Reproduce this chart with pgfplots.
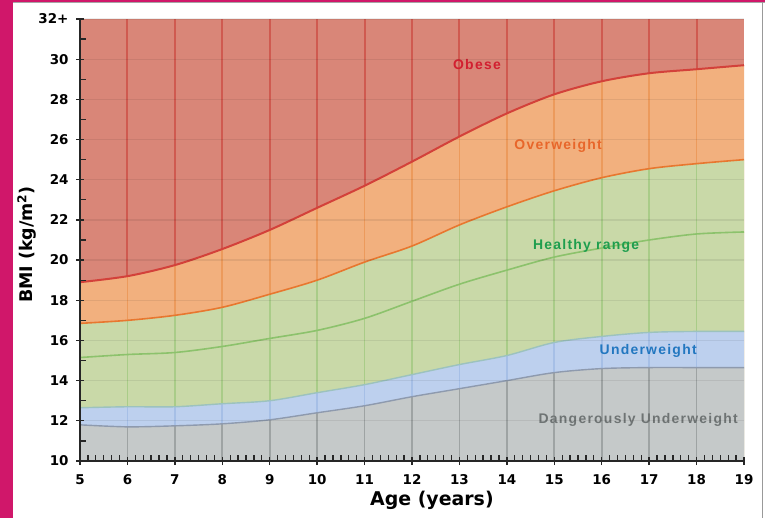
\documentclass[border=0pt]{standalone}
\usepackage{fontspec}
\setmainfont{Liberation Sans}
\newfontfamily\lblfont[LetterSpace=9]{Liberation Sans}
\newfontfamily\axfont{DejaVu Sans}
\usepackage{pgfplots}
\usepackage{pgfplotstable}
\pgfplotsset{compat=1.18}
\definecolor{magentaC}{HTML}{D0176A}
\definecolor{obF}{HTML}{D98678}
\definecolor{obG}{HTML}{CF5A50}
\definecolor{obL}{HTML}{D3413A}
\definecolor{ovF}{HTML}{F2B07E}
\definecolor{ovG}{HTML}{EC9A5C}
\definecolor{ovL}{HTML}{E8772F}
\definecolor{hrF}{HTML}{C9D9A8}
\definecolor{hrG}{HTML}{A9CC88}
\definecolor{hrL}{HTML}{8CC26C}
\definecolor{uwF}{HTML}{BDD0EE}
\definecolor{uwG}{HTML}{A6BFE6}
\definecolor{uwL}{HTML}{9CC2BE}
\definecolor{dgF}{HTML}{C5C9C9}
\definecolor{dgG}{HTML}{9EA3A3}
\definecolor{dgL}{HTML}{8E9AAE}
\definecolor{tObese}{HTML}{D21F30}
\definecolor{tOver}{HTML}{E8662A}
\definecolor{tHealth}{HTML}{1E9E4E}
\definecolor{tUnder}{HTML}{2277C0}
\definecolor{tDang}{HTML}{6F7474}

\pgfplotstableread{
age top obese over median under dang
5  32 18.9  16.85 15.15 12.65 11.8
6  32 19.2  17.0  15.3  12.7  11.7
7  32 19.75 17.25 15.4  12.7  11.75
8  32 20.55 17.65 15.7  12.85 11.85
9  32 21.5  18.3  16.1  13.0  12.05
10 32 22.6  19.0  16.5  13.4  12.4
11 32 23.7  19.9  17.1  13.8  12.75
12 32 24.9  20.7  17.95 14.3  13.2
13 32 26.15 21.75 18.8  14.8  13.6
14 32 27.3  22.65 19.5  15.25 14.0
15 32 28.25 23.45 20.15 15.9  14.4
16 32 28.9  24.1  20.6  16.2  14.6
17 32 29.3  24.55 21.0  16.4  14.65
18 32 29.5  24.8  21.3  16.45 14.65
19 32 29.7  25.0  21.4  16.45 14.65
}\bmi
\pgfplotstableread{
age top obese over median under dang
6  32 19.2  17.0  15.3  12.7  11.7
7  32 19.75 17.25 15.4  12.7  11.75
8  32 20.55 17.65 15.7  12.85 11.85
9  32 21.5  18.3  16.1  13.0  12.05
10 32 22.6  19.0  16.5  13.4  12.4
11 32 23.7  19.9  17.1  13.8  12.75
12 32 24.9  20.7  17.95 14.3  13.2
13 32 26.15 21.75 18.8  14.8  13.6
14 32 27.3  22.65 19.5  15.25 14.0
15 32 28.25 23.45 20.15 15.9  14.4
16 32 28.9  24.1  20.6  16.2  14.6
17 32 29.3  24.55 21.0  16.4  14.65
18 32 29.5  24.8  21.3  16.45 14.65
}\grid

\begin{document}
\begin{tikzpicture}
\begin{axis}[
  scale only axis,
  width=664bp, height=442bp,
  xmin=5, xmax=19, ymin=10, ymax=32,
  xtick={5,...,19},
  ytick={10,12,...,32},
  yticklabels={10,12,14,16,18,20,22,24,26,28,30,32+},
  minor x tick num=5,
  minor y tick num=1,
  axis lines*=left,
  axis line style={-, line width=1.4bp, black!85},
  tick align=center,
  major tick length=8bp,
  minor tick length=6bp,
  tick style={line width=1.3bp, black!85},
  minor x tick style={yshift=3bp},
  minor y tick style={xshift=3bp},
  ymajorgrids,
  y grid style={black, opacity=0.07, line width=1.2bp},
  axis on top,
  axis background/.style={fill=obF},
  /pgf/number format/assume math mode=true,
  ticklabel style={font=\axfont\fontsize{13.5}{13.5}\selectfont\bfseries},
  xticklabel style={yshift=-6bp},
  yticklabel style={xshift=-4bp},
  xlabel={Age (years)},
  ylabel={BMI (kg/m\textsuperscript{2})},
  xlabel style={font=\axfont\fontsize{19}{19}\selectfont\bfseries, at={(axis description cs:0.53,-0.09)}, anchor=center},
  ylabel style={font=\axfont\fontsize{17.5}{17.5}\selectfont\bfseries, at={(axis description cs:-0.08,0.49)}, anchor=center, rotate=0},
  clip=true,
]
% obese band grid
\addplot[ycomb, no marks, draw=obG, line width=2bp] table[x=age,y=top] {\grid};
% overweight
\addplot[fill=ovF, draw=none, smooth] table[x=age,y=obese] {\bmi} \closedcycle;
\addplot[ycomb, no marks, draw=ovG, line width=1.6bp] table[x=age,y=obese] {\grid};
% healthy
\addplot[fill=hrF, draw=none, smooth] table[x=age,y=over] {\bmi} \closedcycle;
\addplot[ycomb, no marks, draw=hrG, line width=1.6bp] table[x=age,y=over] {\grid};
% underweight
\addplot[fill=uwF, draw=none, smooth] table[x=age,y=under] {\bmi} \closedcycle;
\addplot[ycomb, no marks, draw=uwG, line width=1.6bp] table[x=age,y=under] {\grid};
% dangerous
\addplot[fill=dgF, draw=none, smooth] table[x=age,y=dang] {\bmi} \closedcycle;
\addplot[ycomb, no marks, draw=dgG, line width=1.6bp] table[x=age,y=dang] {\grid};
% boundary lines
\addplot[obL, line width=2bp, smooth, no marks] table[x=age,y=obese] {\bmi};
\addplot[ovL, line width=1.6bp, smooth, no marks] table[x=age,y=over] {\bmi};
\addplot[hrL, line width=1.6bp, smooth, no marks] table[x=age,y=median] {\bmi};
\addplot[uwL, line width=1.4bp, smooth, no marks] table[x=age,y=under] {\bmi};
\addplot[dgL, line width=1.4bp, smooth, no marks] table[x=age,y=dang] {\bmi};
% labels
\node[text=tObese, font=\lblfont\fontsize{14}{14}\selectfont\bfseries] at (axis cs:13.37,29.75) {Obese};
\node[text=tOver, font=\lblfont\fontsize{14}{14}\selectfont\bfseries] at (axis cs:15.08,25.7) {Overweight};
\node[text=tHealth, font=\lblfont\fontsize{14}{14}\selectfont\bfseries] at (axis cs:15.67,20.7) {Healthy range};
\node[text=tUnder, font=\lblfont\fontsize{14}{14}\selectfont\bfseries] at (axis cs:16.98,15.5) {Underweight};
\node[text=tDang, font=\lblfont\fontsize{14}{14}\selectfont\bfseries] at (axis cs:16.77,12.05) {Dangerously Underweight};
\end{axis}
\pgfresetboundingbox
\path (-80bp,-57bp) rectangle (685bp,461bp);
\fill[magentaC] (-80bp,-57bp) rectangle (-67bp,461bp);
\fill[magentaC] (-80bp,459bp) rectangle (685bp,461bp);
\fill[black!35] (-67bp,457.5bp) rectangle (685bp,458.5bp);
\fill[black!40] (681.5bp,-57bp) rectangle (683bp,458.5bp);
\end{tikzpicture}
\end{document}
